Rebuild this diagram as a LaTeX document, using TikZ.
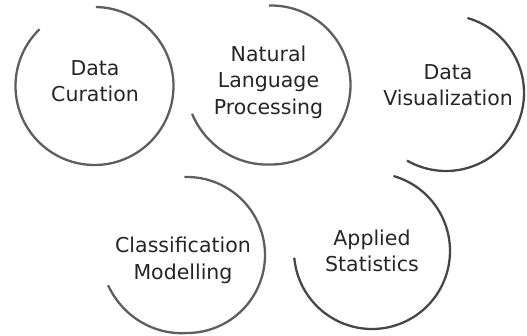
\documentclass[tikz,border=0pt]{standalone}
\usepackage{fontspec}
\setmainfont{DejaVu Sans}
\definecolor{arcA}{HTML}{5E5E5E}
\definecolor{arcB}{HTML}{474747}
\definecolor{txt}{HTML}{262626}
\tikzset{
  ring/.style={draw=arcA, line width=2.3pt, line cap=butt},
  ringdark/.style={ring, draw=arcB},
  label/.style={align=center, anchor=base, inner sep=0pt, text=txt,
    font=\fontsize{20.5}{26.5}\selectfont}
}
\begin{document}
\begin{tikzpicture}[x=1pt, y=1pt]
\fill[white] (0,0) rectangle (527,335);
\useasboundingbox (0,0) rectangle (527,335);
% centres
\coordinate (k1) at (94.5,249);
\coordinate (k2) at (271,250);
\coordinate (k3) at (446,242);
\coordinate (k4) at (187,80);
\coordinate (k5) at (372,84);
% rings
\draw[ring] ([shift={(89:79)}]k1) arc[start angle=89, end angle=-226, radius=79];
\draw[ring] plot[domain=-160:91.5, samples=120, smooth]
  ({271 + (79.5 + 4.5*max(0,(-90-\x)/70))*cos(\x)}, {250 + (79.5 + 4.5*max(0,(-90-\x)/70))*sin(\x)});
\draw[ringdark] ([shift={(74:78)}]k3) arc[start angle=74, end angle=-120, radius=78];
\draw[ring] plot[domain=-159:92, samples=120, smooth]
  ({187 + (78 + 6.5*max(0,(-90-\x)/69))*cos(\x)}, {80 + (78 + 6.5*max(0,(-90-\x)/69))*sin(\x)});
\draw[ringdark] ([shift={(74:78)}]k5) arc[start angle=74, end angle=-175, radius=78];
% texts (base anchor = baseline of the last line)
\node[label] (t1) at (95,233.3) {Data\\Curation};
\node[label] (t2) at (268.5,220.7) {Natural\\Language\\Processing};
\node[label] (t3) at (448,229.3) {Data\\Visualization};
\node[label] (t4) at (183,56) {Classification\\Modelling};
\node[label] (t5) at (372,63.3) {Applied\\Statistics};
\end{tikzpicture}
\end{document}
